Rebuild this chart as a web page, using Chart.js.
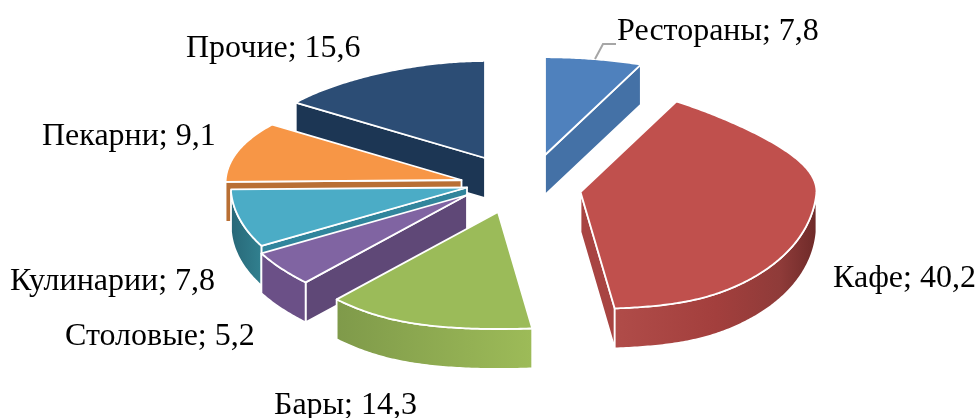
<!DOCTYPE html>
<html lang="ru">
<head>
<meta charset="utf-8">
<title>Pie</title>
<script src="https://cdn.jsdelivr.net/npm/chart.js@4"></script>
<style>
    html, body { margin: 0; padding: 0; background: #fff; }
    canvas { display: block; }
</style>
</head>
<body>
<canvas id="pieChart" width="979" height="418"></canvas>
<script>
const categories = ["Рестораны", "Кафе", "Бары", "Столовые", "Кулинарии", "Пекарни", "Прочие"];
const shares = [7.8, 40.2, 14.3, 5.2, 7.8, 9.1, 15.6];

const topColors = ["#4f81bd", "#c0504d", "#9bbb59", "#8064a2", "#4bacc6", "#f79646", "#2c4d75"];
const faceColors = ["#4471a6", "#a84442", "#85a04c", "#5f4877", "#31859c", "#b96f34", "#1c3654"];
const wallStops = [
    [[0, "#4471a6"], [1, "#4471a6"]],
    [[0, "#b04c49"], [0.5, "#a33f3d"], [0.82, "#8f3b39"], [1, "#6e2a29"]],
    [[0, "#7f9a4a"], [1, "#9dbb58"]],
    [[0, "#6b5087"], [1, "#6b5087"]],
    [[0, "#286878"], [1, "#31808f"]],
    [[0, "#b96f34"], [1, "#b96f34"]],
    [[0, "#1c3654"], [1, "#1c3654"]]
];

// how far each slice is pulled out of the centre, px
const explodeX = [55.5, 91, 8.5, -22.5, -22.5, -28, -4.5];
const explodeY = [-54, -17, 3, -14, -21.5, -29, -51];
const drawOrder = [6, 5, 4, 3, 0, 1, 2];

// label placement: left edge and baseline
const labelX = [617, 833, 274, 65, 10, 42, 186];
const labelY = [40, 287, 414, 345, 290, 145, 57];

const PIE_RADIUS = 236;
const PIE_DEPTH = 40;

// Vertical half size of the flattened pie; differs per quadrant because of the view
function flatRadius(s, c) {
    if (c > 0) {
        if (s < 0) return 108 - 11 * c * c;
        return c < 0.88 ? 84 + 24 * c * c : 102.6 - (c - 0.88) * 40;
    }
    return s > 0 ? 139 - 22 * c * c : 117 + 8 * (1 + c);
}

// Flattened view of the pie: the back is a bit narrower than the front
function project(theta, radius) {
    const s = Math.sin(theta), c = Math.cos(theta);
    const k = radius / PIE_RADIUS;
    const front = Math.abs(c);
    const narrow = c > 0 ? 1 - 0.2 * c * c * c : 1 - 0.05 * front + 0.22 * Math.pow(front, 8);
    const sag = s < 0 ? 4 * s * s : 0;
    return { x: PIE_RADIUS * s * narrow * k, y: (-c * flatRadius(s, c) + sag) * k };
}

function polygon(ctx, points) {
    ctx.beginPath();
    points.forEach((p, i) => i ? ctx.lineTo(p.x, p.y) : ctx.moveTo(p.x, p.y));
    ctx.closePath();
}

function fillAndEdge(ctx, points, fill) {
    polygon(ctx, points);
    ctx.fillStyle = fill;
    ctx.fill();
    ctx.stroke();
}

function down(p) {
    return { x: p.x, y: p.y + PIE_DEPTH };
}

function drawSlice(ctx, arc, index) {
    const a = arc.startAngle + Math.PI / 2;
    const b = arc.endAngle + Math.PI / 2;
    const ox = arc.x + explodeX[index];
    const oy = arc.y + explodeY[index];
    const apex = { x: ox, y: oy };

    const rim = theta => {
        const p = project(theta, arc.outerRadius);
        return { x: ox + p.x, y: oy + p.y };
    };
    const rimPoints = (from, to) => {
        const steps = Math.max(2, Math.ceil((to - from) * 90));
        const pts = [];
        for (let i = 0; i <= steps; i++) pts.push(rim(from + (to - from) * i / steps));
        return pts;
    };

    ctx.lineWidth = 1.8;
    ctx.strokeStyle = "#ffffff";
    ctx.lineJoin = "round";

    // side faces along the cuts, only those turned to the viewer
    if (Math.sin(b) > 0) {
        const p = rim(b);
        fillAndEdge(ctx, [apex, p, down(p), down(apex)], faceColors[index]);
    }
    if (Math.sin(a) < 0) {
        const p = rim(a);
        fillAndEdge(ctx, [apex, p, down(p), down(apex)], faceColors[index]);
    }

    // outer wall on the front half
    const from = Math.max(a, Math.PI / 2);
    const to = Math.min(b, Math.PI * 1.5);
    if (to > from) {
        const edge = rimPoints(from, to);
        const xs = edge.map(p => p.x);
        const grad = ctx.createLinearGradient(Math.min(...xs), 0, Math.max(...xs), 0);
        wallStops[index].forEach(stop => grad.addColorStop(stop[0], stop[1]));
        fillAndEdge(ctx, edge.concat(edge.slice().reverse().map(down)), grad);
    }

    // top of the slice
    fillAndEdge(ctx, [apex].concat(rimPoints(a, b)), topColors[index]);
}

const pie3d = {
    id: "pie3d",
    beforeDatasetDraw(chart, args) {
        const ctx = chart.ctx;
        const arcs = args.meta.data;
        ctx.save();
        drawOrder.forEach(i => drawSlice(ctx, arcs[i], i));
        ctx.restore();
        return false;
    },
    afterDraw(chart) {
        const ctx = chart.ctx;
        ctx.save();

        // leader of the first label
        ctx.strokeStyle = "#a6a6a6";
        ctx.lineWidth = 2;
        ctx.beginPath();
        ctx.moveTo(595, 59);
        ctx.lineTo(603, 44);
        ctx.lineTo(616, 44);
        ctx.stroke();

        ctx.font = '32px "Liberation Serif"';
        ctx.fillStyle = "#000000";
        ctx.textBaseline = "alphabetic";
        chart.data.labels.forEach((label, i) => {
            const value = String(chart.data.datasets[0].data[i]).replace(".", ",");
            ctx.fillText(label + "; " + value, labelX[i], labelY[i]);
        });
        ctx.restore();
    }
};

new Chart(document.getElementById("pieChart").getContext("2d"), {
    type: "pie",
    data: {
        labels: categories,
        datasets: [{ data: shares, backgroundColor: topColors, borderWidth: 0 }]
    },
    options: {
        responsive: false,
        animation: false,
        radius: PIE_RADIUS,
        events: [],
        plugins: { legend: { display: false }, tooltip: { enabled: false } }
    },
    plugins: [pie3d]
});
</script>
</body>
</html>
